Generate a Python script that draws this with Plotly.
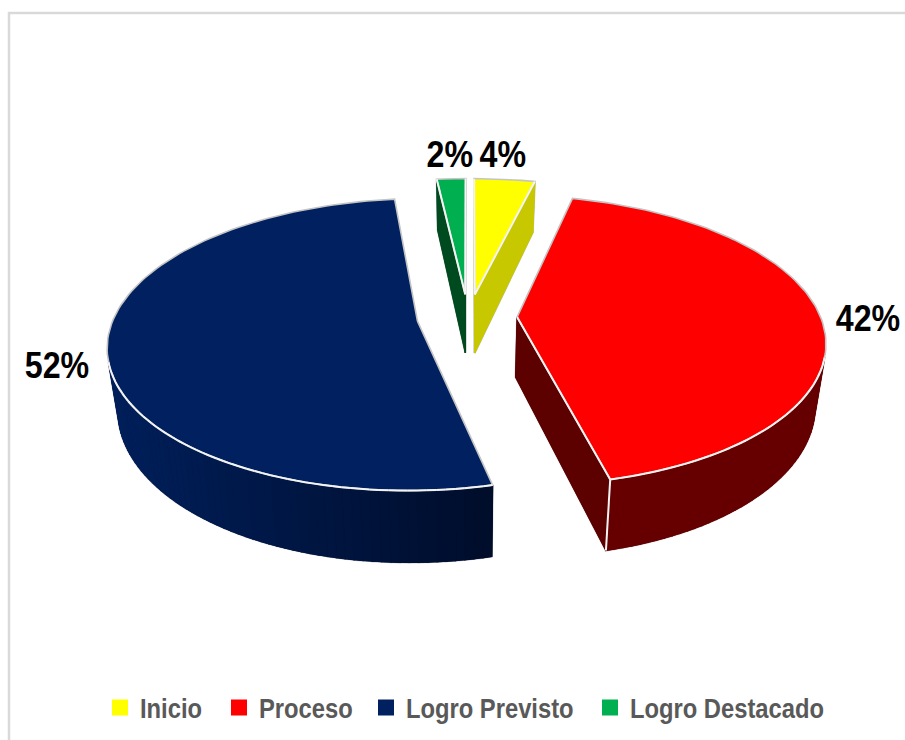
import math
import plotly.graph_objects as go

# --- data ---
categories = ["Inicio", "Proceso", "Logro Previsto", "Logro Destacado"]
values = [3.8, 42.45, 51.95, 1.8]

# --- styles ---
top_colors = ["#FFFF00", "#FF0000", "#002060", "#00B050"]
wall_colors = ["#C8C800", "#660000", None, "#004A20"]
cut_colors = ["#C8C800", "#5C0000", "#00133F", "#004A20"]
label_xy = [(502, 154), (868, 318), (57, 365), (449, 154)]
legend_x = [100, 219, 366, 590]
slice_dx = [2, 0, 0, 1]
FONT = "Liberation Sans, Arial"

# --- projection model (pixels) ---
VX, VY = 467.0, 317.0   # centre of the pie on the page
R, RK = 303.5, 141.0    # horizontal radius, foreshortened vertical radius
P = 0.16                # perspective strength
H = 60.0                # depth of the pie
BS = 0.97               # shrink of the bottom face
EXPLODE = 0.165


def project(X, Y, bottom=False, dx=0.0):
    s = 1.0 / (1.0 + P * Y)
    x = VX + R * X * s
    y = VY - RK * Y * s
    if bottom:
        x = VX + (x - VX) * BS
        y = y + H * s
    return x + dx, y


def blue_wall_color(x):
    t = min(max((x - 110.0) / 380.0, 0.0), 1.0)
    a, b = (0, 31, 90), (0, 13, 43)
    return "rgb(%d,%d,%d)" % tuple(round(a[i] + (b[i] - a[i]) * t) for i in range(3))


def quad_visible(q):
    area = 0.0
    for i in range(4):
        x0, y0 = q[i]
        x1, y1 = q[(i + 1) % 4]
        area += x0 * y1 - x1 * y0
    return area < 0


def group(polys):
    xs, ys = [], []
    for poly in polys:
        xs += [p[0] for p in poly] + [poly[0][0], None]
        ys += [p[1] for p in poly] + [poly[0][1], None]
    return xs, ys


fig = go.Figure()
total = sum(values)
start = 0.0
wedges = []
for i, v in enumerate(values):
    a0 = start
    a1 = start + v / total * 2 * math.pi
    start = a1
    wedges.append((i, a0, a1))

for i, a0, a1 in [wedges[3], wedges[0], wedges[2], wedges[1]]:
    mid = (a0 + a1) / 2
    ex, ey = EXPLODE * math.sin(mid), EXPLODE * math.cos(mid)
    n = max(3, int((a1 - a0) / math.radians(1.5)))
    world = [(ex, ey)] + [
        (ex + math.sin(a0 + (a1 - a0) * k / n), ey + math.cos(a0 + (a1 - a0) * k / n))
        for k in range(n + 1)
    ]
    top = [project(*w, dx=slice_dx[i]) for w in world]
    bot = [project(*w, bottom=True, dx=slice_dx[i]) for w in world]
    m = len(world)

    visible = []
    for k in range(m):
        j = (k + 1) % m
        q = [top[k], top[j], bot[j], bot[k]]
        if quad_visible(q):
            visible.append((k, j, q))

    # gray silhouette beneath the walls
    xs, ys = group([q for _, _, q in visible])
    fig.add_trace(go.Scatter(x=xs, y=ys, mode="lines", fill="toself", fillcolor="#BEBEBE",
                             line=dict(color="#BEBEBE", width=2), hoverinfo="skip", showlegend=False))
    # solid dark base so the gradient bands leave no seams
    base = wall_colors[i] or "#001546"
    fig.add_trace(go.Scatter(x=xs, y=ys, mode="lines", fill="toself", fillcolor=base,
                             line=dict(color=base, width=0.8), hoverinfo="skip", showlegend=False))

    # wall fills, grouped by colour
    by_color = {}
    for k, j, q in visible:
        is_cut = k == 0 or j == 0
        if is_cut:
            c = cut_colors[i]
        elif wall_colors[i] is None:
            c = blue_wall_color((q[0][0] + q[1][0]) / 2)
        else:
            c = wall_colors[i]
        by_color.setdefault(c, []).append(q)
    for c, polys in by_color.items():
        xs, ys = group(polys)
        fig.add_trace(go.Scatter(x=xs, y=ys, mode="lines", fill="toself", fillcolor=c,
                                 line=dict(color=c, width=1.2), hoverinfo="skip", showlegend=False))

    # top face
    fig.add_trace(go.Scatter(x=[p[0] for p in top] + [top[0][0]], y=[p[1] for p in top] + [top[0][1]],
                             mode="lines", fill="toself", fillcolor=top_colors[i],
                             line=dict(color="#C4C4C4", width=1.6), hoverinfo="skip", showlegend=False))

    # white seams between the top face and the walls
    sx, sy = [], []
    for k, j, q in visible:
        sx += [q[0][0], q[1][0], None]
        sy += [q[0][1], q[1][1], None]
    if i == 1:  # seam between cut face and outer wall
        sx += [top[1 + n][0], bot[1 + n][0], None]
        sy += [top[1 + n][1], bot[1 + n][1], None]
    fig.add_trace(go.Scatter(x=sx, y=sy, mode="lines", line=dict(color="#F4F4F4", width=2),
                             hoverinfo="skip", showlegend=False))

# legend entries
layout_legends = {}
for i, name in enumerate(categories):
    key = "legend" if i == 0 else "legend%d" % (i + 1)
    fig.add_trace(go.Scatter(x=[None], y=[None], mode="markers", name=name, legend=key,
                             marker=dict(symbol="square", size=16, color=top_colors[i])))
    layout_legends[key] = dict(x=legend_x[i] / 905, y=1 - 708 / 740, xanchor="left", yanchor="middle",
                               bgcolor="rgba(0,0,0,0)", borderwidth=0,
                               font=dict(family=FONT, size=27, color="#595959", weight="bold"))

for i, (lx, ly) in enumerate(label_xy):
    fig.add_annotation(x=lx, y=ly, text="%d%%" % round(values[i]), showarrow=False,
                       xanchor="center", yanchor="middle",
                       font=dict(family=FONT, size=37, color="#000000", weight="bold"))

fig.update_layout(
    width=905, height=740, margin=dict(l=0, r=0, t=0, b=0),
    paper_bgcolor="#FFFFFF", plot_bgcolor="#FFFFFF",
    xaxis=dict(range=[0, 905], visible=False, fixedrange=True),
    yaxis=dict(range=[740, 0], visible=False, fixedrange=True),
    shapes=[
        dict(type="line", x0=9, x1=9, y0=12, y1=740, line=dict(color="#D9D9D9", width=2.5)),
        dict(type="line", x0=8, x1=905, y0=13, y1=13, line=dict(color="#D9D9D9", width=2.5)),
    ],
    **layout_legends,
)

# The reference text is a condensed bold face; squeeze the real text elements to match.
post = """
document.body.style.margin='0';
function squeezeSel(sel, f, centred){
  document.querySelectorAll(sel).forEach(function(t){
    if(t.dataset.sq) return;
    var b=t.getBBox();
    if(b.width<=0) return;
    var cx=centred ? b.x+b.width/2 : b.x;
    t.setAttribute('transform','translate('+cx+',0) scale('+f+',1) translate('+(-cx)+',0)');
    t.dataset.sq='1';
  });
}
function squeeze(){
  squeezeSel('.annotation-text',0.87,true);
  squeezeSel('.legendtext,.legend2text,.legend3text,.legend4text',0.88,false);
}
squeeze();
[20,50,100,200,300,500,800,1200].forEach(function(d){setTimeout(squeeze,d);});
"""
fig.write_html("out.html", post_script=post, config={"displayModeBar": False})
